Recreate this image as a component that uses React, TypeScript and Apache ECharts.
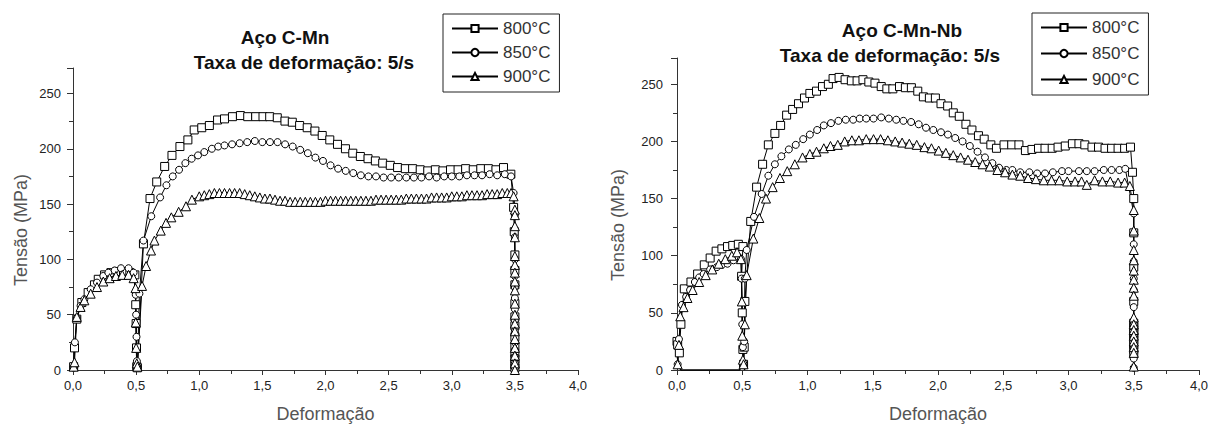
import React, { useEffect, useRef } from "react";
import * as echarts from "echarts";

type P = [number, number];

const seriesNames = ["800°C", "850°C", "900°C"];
const xTicks = { min: 0, max: 4, interval: 0.5 };
const yTicks = { min: 0, max: 273, interval: 50 };

// Aço C-Mn
const cmn800: P[] = [
  [0.005, 3], [0.012, 20], [0.03, 46], [0.07, 61], [0.12, 70], [0.17, 77], [0.2, 82], [0.25, 86], [0.3, 88], [0.35, 89], [0.4, 89], [0.45, 88], [0.49, 86],
  [0.497, 59], [0.5, 42], [0.503, 20], [0.505, 3], [0.51, 2],
  [0.558, 114], [0.61, 155], [0.663, 170], [0.726, 184], [0.784, 194], [0.847, 202], [0.91, 208], [0.96, 217], [1.02, 219], [1.08, 221], [1.145, 226], [1.2, 227], [1.263, 229], [1.326, 230], [1.384, 229], [1.447, 229], [1.505, 229], [1.558, 229], [1.618, 228], [1.679, 225], [1.737, 224], [1.795, 221], [1.855, 219], [1.916, 216], [1.974, 212], [2.034, 208], [2.095, 204], [2.158, 200], [2.216, 196], [2.276, 193], [2.337, 191], [2.395, 189], [2.453, 187], [2.513, 185], [2.571, 183], [2.632, 182], [2.69, 182], [2.75, 181], [2.81, 180], [2.87, 181], [2.93, 180], [2.99, 181], [3.05, 181], [3.11, 182], [3.17, 181], [3.23, 182], [3.29, 182], [3.35, 181], [3.41, 183], [3.468, 177],
  [3.49, 147], [3.495, 125], [3.5, 104], [3.5, 90], [3.5, 77], [3.5, 60], [3.5, 48], [3.5, 40], [3.5, 30], [3.5, 22], [3.5, 15], [3.5, 10], [3.5, 5], [3.5, 2],
];
const cmn850: P[] = [
  [0.005, 2], [0.015, 25], [0.03, 47], [0.06, 58], [0.09, 64], [0.14, 73], [0.19, 79], [0.24, 85], [0.28, 88], [0.33, 90], [0.38, 92], [0.44, 92], [0.48, 88],
  [0.497, 68], [0.5, 50], [0.503, 30], [0.506, 8], [0.51, 3],
  [0.526, 69], [0.558, 117], [0.62, 139], [0.69, 156], [0.74, 167], [0.79, 175], [0.84, 181], [0.89, 187], [0.94, 191], [0.99, 194], [1.04, 197], [1.1, 200], [1.15, 202], [1.2, 203], [1.26, 204], [1.32, 205], [1.38, 206], [1.44, 207], [1.5, 206], [1.56, 206], [1.62, 206], [1.68, 204], [1.74, 202], [1.8, 199], [1.86, 196], [1.92, 192], [1.98, 189], [2.04, 185], [2.1, 182], [2.16, 180], [2.22, 178], [2.28, 176], [2.34, 175], [2.4, 175], [2.46, 174], [2.52, 174], [2.58, 174], [2.64, 174], [2.7, 174], [2.76, 174], [2.82, 175], [2.88, 174], [2.94, 175], [3.0, 175], [3.06, 175], [3.12, 176], [3.18, 176], [3.24, 176], [3.3, 177], [3.36, 176], [3.42, 177], [3.47, 175],
  [3.49, 160], [3.5, 140], [3.5, 120], [3.5, 100], [3.5, 85], [3.5, 75], [3.5, 65], [3.5, 55], [3.5, 45], [3.5, 35], [3.5, 25], [3.5, 18], [3.5, 12], [3.5, 6], [3.5, 2],
];
const cmn900: P[] = [
  [0.005, 3], [0.012, 7], [0.03, 48], [0.06, 57], [0.09, 63], [0.14, 69], [0.19, 75], [0.24, 80], [0.29, 83], [0.34, 85], [0.39, 86], [0.44, 86], [0.48, 83],
  [0.495, 74], [0.497, 43], [0.5, 20], [0.505, 6], [0.51, 3],
  [0.547, 76], [0.579, 94], [0.618, 108], [0.645, 117], [0.695, 126], [0.737, 133], [0.779, 138], [0.837, 143], [0.895, 148], [0.942, 154], [1.0, 157], [1.04, 158], [1.08, 159], [1.12, 160], [1.16, 160], [1.2, 160], [1.24, 160], [1.28, 160], [1.32, 160], [1.36, 159], [1.4, 158], [1.44, 157], [1.48, 156], [1.52, 155], [1.56, 155], [1.6, 154], [1.64, 153], [1.68, 153], [1.72, 152], [1.76, 152], [1.8, 152], [1.84, 152], [1.88, 152], [1.92, 152], [1.96, 152], [2.0, 153], [2.04, 153], [2.08, 153], [2.12, 153], [2.16, 153], [2.2, 153], [2.24, 153], [2.28, 153], [2.32, 153], [2.36, 153], [2.4, 154], [2.44, 154], [2.48, 154], [2.52, 154], [2.56, 154], [2.6, 154], [2.64, 155], [2.68, 155], [2.72, 155], [2.76, 155], [2.8, 155], [2.84, 156], [2.88, 156], [2.92, 156], [2.96, 156], [3.0, 157], [3.04, 157], [3.08, 157], [3.12, 158], [3.16, 158], [3.2, 158], [3.24, 158], [3.28, 159], [3.32, 159], [3.36, 159], [3.4, 160], [3.44, 160], [3.47, 160],
  [3.49, 157], [3.5, 145], [3.5, 140], [3.5, 130], [3.5, 120], [3.5, 103], [3.5, 95], [3.5, 88], [3.5, 80], [3.5, 72], [3.5, 60], [3.5, 50], [3.5, 42], [3.5, 35], [3.5, 28], [3.5, 20], [3.5, 13], [3.5, 6], [3.5, 0],
];

// Aço C-Mn-Nb
const nb800: P[] = [
  [0.0, 25], [0.005, 22], [0.018, 15], [0.03, 40], [0.056, 71], [0.107, 77], [0.158, 84], [0.209, 92], [0.254, 98], [0.3, 104], [0.344, 106], [0.387, 108], [0.427, 109], [0.47, 110], [0.505, 108],
  [0.495, 82], [0.5, 50], [0.505, 18], [0.51, 5], [0.515, 20], [0.52, 60],
  [0.565, 130], [0.61, 160], [0.656, 180], [0.7, 197], [0.75, 207], [0.794, 214], [0.84, 223], [0.886, 228], [0.931, 233], [0.977, 238], [1.018, 242], [1.069, 244], [1.115, 248], [1.16, 250], [1.196, 255], [1.242, 256], [1.288, 254], [1.336, 253], [1.38, 253], [1.425, 254], [1.47, 252], [1.517, 251], [1.565, 248], [1.608, 246], [1.654, 246], [1.705, 248], [1.75, 247], [1.796, 247], [1.845, 244], [1.888, 239], [1.934, 238], [1.98, 238], [2.023, 233], [2.074, 231], [2.117, 225], [2.163, 222], [2.214, 215], [2.26, 210], [2.31, 205], [2.354, 202], [2.405, 197], [2.448, 194], [2.506, 197], [2.565, 197], [2.62, 197], [2.67, 192], [2.72, 193], [2.77, 194], [2.82, 194], [2.875, 194], [2.92, 195], [2.975, 196], [3.03, 198], [3.08, 198], [3.125, 197], [3.18, 195], [3.23, 195], [3.28, 194], [3.33, 194], [3.38, 194], [3.43, 194], [3.475, 195], [3.49, 173],
  [3.5, 150], [3.5, 120], [3.5, 90], [3.5, 60], [3.5, 41], [3.5, 38], [3.5, 35], [3.5, 32], [3.5, 29], [3.5, 26], [3.5, 22], [3.5, 18], [3.5, 14],
];
const nb850: P[] = [
  [0.005, 5], [0.015, 27], [0.038, 57], [0.07, 64], [0.1, 70], [0.137, 77], [0.17, 81], [0.204, 84], [0.254, 88], [0.305, 90], [0.344, 92], [0.387, 93], [0.433, 96], [0.47, 99], [0.49, 97],
  [0.495, 80], [0.5, 40], [0.505, 20], [0.51, 5], [0.515, 25], [0.52, 80], [0.534, 105],
  [0.59, 134], [0.649, 154], [0.7, 170], [0.75, 180], [0.8, 187], [0.857, 193], [0.91, 197], [0.967, 202], [1.018, 206], [1.074, 210], [1.125, 214], [1.18, 216], [1.237, 218], [1.293, 219], [1.35, 219], [1.4, 220], [1.45, 220], [1.506, 220], [1.565, 221], [1.623, 220], [1.68, 219], [1.735, 218], [1.794, 217], [1.852, 215], [1.908, 212], [1.964, 210], [2.023, 208], [2.076, 206], [2.132, 203], [2.188, 200], [2.244, 196], [2.303, 191], [2.36, 186], [2.417, 181], [2.468, 177], [2.524, 175], [2.57, 175], [2.63, 173], [2.7, 173], [2.76, 172], [2.82, 172], [2.88, 173], [2.95, 174], [3.0, 174], [3.08, 174], [3.14, 174], [3.2, 174], [3.27, 175], [3.33, 175], [3.39, 175], [3.435, 176],
  [3.5, 137], [3.5, 110], [3.5, 95], [3.5, 80], [3.5, 70], [3.5, 55], [3.5, 40], [3.5, 30], [3.5, 20], [3.5, 10], [3.5, 2],
];
const nb900: P[] = [
  [0.005, 5], [0.015, 22], [0.025, 47], [0.05, 55], [0.08, 63], [0.12, 70], [0.17, 77], [0.22, 83], [0.27, 88], [0.32, 93], [0.37, 97], [0.42, 100], [0.46, 103], [0.49, 97],
  [0.497, 60], [0.5, 30], [0.505, 9], [0.51, 5], [0.52, 40], [0.534, 83],
  [0.585, 115], [0.631, 133], [0.682, 150], [0.733, 160], [0.789, 168], [0.845, 174], [0.903, 180], [0.962, 186], [1.018, 189], [1.069, 191], [1.125, 194], [1.176, 196], [1.232, 197], [1.285, 200], [1.34, 201], [1.394, 201], [1.45, 202], [1.506, 202], [1.56, 202], [1.616, 201], [1.672, 200], [1.725, 199], [1.78, 198], [1.837, 197], [1.896, 195], [1.95, 194], [2.005, 192], [2.06, 190], [2.117, 188], [2.173, 186], [2.23, 184], [2.285, 182], [2.341, 180], [2.397, 178], [2.455, 175], [2.514, 173], [2.57, 171], [2.63, 170], [2.69, 168], [2.75, 167], [2.81, 166], [2.87, 166], [2.93, 166], [2.99, 165], [3.05, 165], [3.1, 165], [3.14, 162], [3.2, 166], [3.26, 165], [3.32, 165], [3.38, 164], [3.43, 164], [3.47, 161],
  [3.5, 140], [3.5, 122], [3.5, 105], [3.5, 96], [3.5, 87], [3.5, 79], [3.5, 72], [3.5, 65], [3.5, 46], [3.5, 40], [3.5, 35], [3.5, 30], [3.5, 25], [3.5, 20], [3.5, 15], [3.5, 3],
];
const nbBaseline: P[] = [
  [0.0, 25], [0.003, 12], [0.01, 4], [0.03, 0], [0.48, 0], [0.495, 4], [0.5, 8], [0.505, 4], [0.52, 0],
];

const FONT = "'Liberation Sans', Arial, sans-serif";
const AXIS = "#333";

function xAxis(gridIndex: number) {
  return {
    type: "value",
    gridIndex,
    min: xTicks.min,
    max: xTicks.max,
    interval: xTicks.interval,
    name: "Deformação",
    nameLocation: "middle",
    nameGap: 35,
    nameTextStyle: { fontSize: 18, color: "#555", fontFamily: FONT },
    axisLine: { show: true, onZero: false, lineStyle: { color: AXIS, width: 1 } },
    axisTick: { show: true, length: 5, lineStyle: { color: AXIS } },
    minorTick: { show: true, splitNumber: 2, length: 4, lineStyle: { color: AXIS } },
    splitLine: { show: false },
    axisLabel: {
      color: "#222",
      fontSize: 13,
      fontFamily: FONT,
      margin: 9,
      formatter: (v: number) => v.toFixed(1).replace(".", ","),
    },
  };
}

function yAxis(gridIndex: number, gap: number, labelMargin: number) {
  return {
    type: "value",
    gridIndex,
    min: yTicks.min,
    max: yTicks.max,
    interval: yTicks.interval,
    name: "Tensão (MPa)",
    nameLocation: "middle",
    nameGap: gap,
    nameTextStyle: { fontSize: 18, color: "#555", fontFamily: FONT, padding: [0, 22, 0, 0] },
    axisLine: { show: true, onZero: false, lineStyle: { color: AXIS, width: 1 } },
    axisTick: { show: true, length: 6, lineStyle: { color: AXIS } },
    minorTick: { show: true, splitNumber: 2, length: 4, lineStyle: { color: AXIS } },
    splitLine: { show: false },
    axisLabel: { color: "#222", fontSize: 13, fontFamily: FONT, margin: labelMargin, showMaxLabel: false },
  };
}

const symbols = ["rect", "circle", "triangle"];
const sizes = [8, 7, 9];

function mk(name: string, idx: number, grid: number, data: P[]) {
  return {
    type: "line",
    name,
    xAxisIndex: grid,
    yAxisIndex: grid,
    data,
    symbol: symbols[idx],
    symbolSize: sizes[idx],
    showAllSymbol: true,
    clip: false,
    lineStyle: { color: "#000", width: 1 },
    itemStyle: { color: "#fff", borderColor: "#000", borderWidth: 1 },
    emphasis: { disabled: true },
  };
}

function legend(left: number, top: number, gap: number) {
  return {
    data: seriesNames,
    orient: "vertical",
    left,
    top,
    itemWidth: 46,
    itemHeight: 9,
    itemGap: gap,
    padding: [6, 9, 7, 8],
    borderColor: "#222",
    borderWidth: 1,
    selectedMode: false,
    textStyle: { fontSize: 17, color: "#333", fontFamily: FONT },
  };
}

function title(x: number, y: number, text: string) {
  return {
    type: "text",
    x,
    y,
    style: {
      text,
      fontSize: 19,
      fontWeight: "bold",
      fontFamily: FONT,
      fill: "#111",
      textAlign: "center",
      textVerticalAlign: "middle",
    },
  };
}

export default function App() {
  const ref = useRef<HTMLDivElement>(null);
  useEffect(() => {
    const chart = echarts.init(ref.current!, null, { renderer: "svg" });
    chart.setOption({
      animation: false,
      backgroundColor: "#fff",
      grid: [
        { left: 73, right: 635, top: 68, bottom: 55, containLabel: false },
        { left: 677, right: 14, top: 58, bottom: 54, containLabel: false },
      ],
      xAxis: [xAxis(0), xAxis(1)],
      yAxis: [yAxis(0, 43, 12), yAxis(1, 50, 14)],
      legend: [legend(443, 14, 7), legend(1032, 13, 9)],
      graphic: [
        title(285, 37, "Aço C-Mn"),
        title(304, 62, "Taxa de deformação: 5/s"),
        title(902, 30, "Aço C-Mn-Nb"),
        title(890, 55, "Taxa de deformação: 5/s"),
      ],
      series: [
        mk(seriesNames[0], 0, 0, cmn800),
        mk(seriesNames[1], 1, 0, cmn850),
        mk(seriesNames[2], 2, 0, cmn900),
        {
          type: "line",
          name: "baseline",
          xAxisIndex: 1,
          yAxisIndex: 1,
          data: nbBaseline,
          symbol: "none",
          clip: false,
          lineStyle: { color: "#000", width: 1.5 },
          emphasis: { disabled: true },
        },
        mk(seriesNames[0], 0, 1, nb800),
        mk(seriesNames[1], 1, 1, nb850),
        mk(seriesNames[2], 2, 1, nb900),
      ],
    });
    return () => chart.dispose();
  }, []);
  return (
    <div
      ref={ref}
      style={{ position: "fixed", left: 0, top: 0, width: 1213, height: 428, background: "#fff" }}
    />
  );
}
